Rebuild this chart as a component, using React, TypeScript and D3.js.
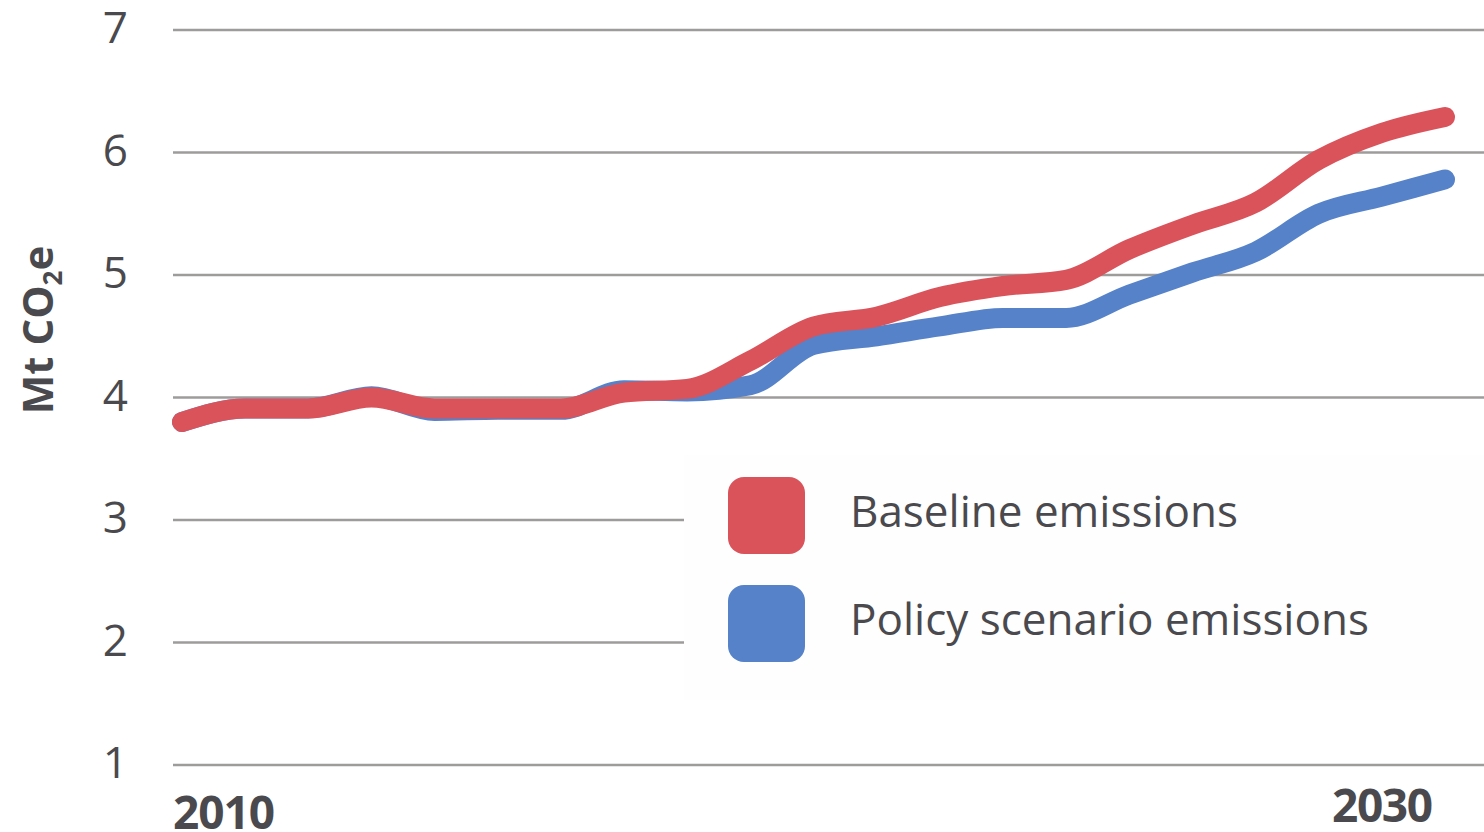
import React from 'react';
import * as d3 from 'd3';

const years = [
  2010, 2011, 2012, 2013, 2014, 2015, 2016, 2017, 2018, 2019, 2020,
  2021, 2022, 2023, 2024, 2025, 2026, 2027, 2028, 2029, 2030,
];

const baseline = [
  3.8, 3.91, 3.91, 4.0, 3.91, 3.91, 3.91, 4.04, 4.07, 4.3, 4.58,
  4.66, 4.82, 4.91, 4.96, 5.21, 5.41, 5.59, 5.94, 6.16, 6.29,
];

const policy = [
  3.8, 3.91, 3.91, 4.01, 3.89, 3.9, 3.9, 4.06, 4.05, 4.1, 4.43,
  4.5, 4.58, 4.65, 4.65, 4.84, 5.02, 5.19, 5.5, 5.64, 5.78,
];

const yTicks = [1, 2, 3, 4, 5, 6, 7];
const xLabels = ['2010', '2030'];
const seriesNames = ['Baseline emissions', 'Policy scenario emissions'];
const seriesColors = ['#da535b', '#5582c8'];

const width = 1484;
const height = 832;
const font = '"Open Sans", "DejaVu Sans", sans-serif';
const textColor = '#4a4a4e';

const EmissionsChart: React.FC = () => {
  const svgRef = React.useRef<SVGSVGElement>(null);

  React.useEffect(() => {
    const svg = d3.select(svgRef.current);
    svg.selectAll('*').remove();

    const x = d3.scaleLinear().domain([2010, 2030]).range([182, 1445]);
    const y = d3.scaleLinear().domain([1, 7]).range([765, 30]);

    // gridlines + tick labels
    const grid = svg.append('g').attr('class', 'grid');
    grid.selectAll('line')
      .data(yTicks)
      .join('line')
        .attr('x1', 173)
        .attr('x2', width)
        .attr('y1', d => y(d))
        .attr('y2', d => y(d))
        .attr('stroke', '#9e9b9b')
        .attr('stroke-width', 2.5);

    grid.selectAll('text')
      .data(yTicks)
      .join('text')
        .attr('x', 128)
        .attr('y', d => y(d) + 13)
        .attr('text-anchor', 'end')
        .attr('font-family', font)
        .attr('font-size', 44)
        .attr('fill', textColor)
        .text(d => d);

    // y axis title
    const title = svg.append('text')
      .attr('transform', 'translate(53, 330) rotate(-90)')
      .attr('text-anchor', 'middle')
      .attr('font-family', font)
      .attr('font-size', 42)
      .attr('font-weight', 'bold')
      .attr('fill', textColor);
    title.append('tspan').text('Mt CO');
    title.append('tspan').attr('font-size', 26).attr('dy', 9).text('2');
    title.append('tspan').attr('dy', -9).text('e');

    // x labels
    svg.append('text')
      .attr('x', 173)
      .attr('y', 829)
      .attr('font-family', font)
      .attr('font-size', 46)
      .attr('font-weight', 'bold')
      .attr('fill', textColor)
      .attr('textLength', 102)
      .text(xLabels[0]);
    svg.append('text')
      .attr('x', 1433)
      .attr('y', 822)
      .attr('text-anchor', 'end')
      .attr('font-family', font)
      .attr('font-size', 46)
      .attr('font-weight', 'bold')
      .attr('fill', textColor)
      .attr('textLength', 101)
      .text(xLabels[1]);

    // lines
    const line = d3.line<number>()
      .x((_, i) => x(years[i]))
      .y(d => y(d))
      .curve(d3.curveMonotoneX);

    [policy, baseline].forEach((values, k) => {
      svg.append('path')
        .datum(values)
        .attr('d', line)
        .attr('fill', 'none')
        .attr('stroke', seriesColors[1 - k])
        .attr('stroke-width', 20)
        .attr('stroke-linecap', 'round')
        .attr('stroke-linejoin', 'round');
    });

    // legend
    const legend = svg.append('g').attr('class', 'legend');
    legend.append('rect')
      .attr('x', 684)
      .attr('y', 455)
      .attr('width', width - 684)
      .attr('height', 245)
      .attr('fill', '#fefefe');

    const items = legend.selectAll('g.item')
      .data(seriesNames)
      .join('g')
        .attr('class', 'item')
        .attr('transform', (_, i) => `translate(728, ${477 + i * 108})`);

    items.append('rect')
      .attr('width', 77)
      .attr('height', 77)
      .attr('rx', 16)
      .attr('fill', (_, i) => seriesColors[i]);

    items.append('text')
      .attr('x', 122)
      .attr('y', 50)
      .attr('font-family', font)
      .attr('font-size', 44)
      .attr('fill', textColor)
      .text(d => d);
  }, []);

  return (
    <svg
      ref={svgRef}
      width={width}
      height={height}
      style={{ position: 'absolute', left: 0, top: 0, background: '#fff' }}
    />
  );
};

export default function App() {
  return <EmissionsChart />;
}
